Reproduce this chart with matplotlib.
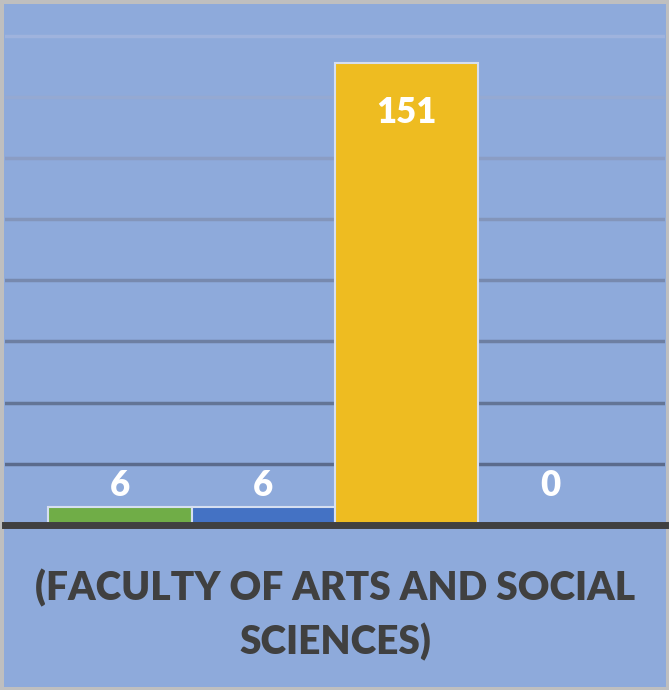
import matplotlib
matplotlib.use("Agg")
from matplotlib import pyplot as plt
import numpy as np

categories = ["A", "B", "C", "D"]
values = [6, 6, 151, 0]
bar_colors = ["#70AD47", "#4472C4", "#EEBC21", "#8EAADB"]
xlabel_text = "(FACULTY OF ARTS AND SOCIAL\nSCIENCES)"

bg = "#8EAADB"
grid_colors = ["#5B6B8C", "#637596", "#6D7FA2", "#7789AE", "#8395BA",
               "#8B9DC4", "#95A9D2", "#9FB3DD"]

plt.rcParams["font.family"] = ["Lato", "DejaVu Sans"]

fig = plt.figure(figsize=(6.69, 6.90), dpi=100)
fig.patch.set_facecolor(bg)
fig.patch.set_edgecolor("#BFBFBF")
fig.patch.set_linewidth(5)

ax = fig.add_axes([5 / 669, 1 - 525 / 690, 660 / 669, 520 / 690])
ax.set_facecolor(bg)

x = np.arange(len(categories))
bars = ax.bar(x, values, width=1.0, color=bar_colors, edgecolor="#D6DFF0",
              linewidth=1.5, zorder=3)

ax.set_xlim(-0.8, len(categories) - 0.2)
ax.set_ylim(0, 170)
ax.set_yticks(np.arange(20, 161, 20))
ax.yaxis.grid(True, linewidth=2.5, zorder=0)
ax.set_axisbelow(True)
for gl, c in zip(ax.get_ygridlines(), grid_colors):
    gl.set_color(c)

for s in ["top", "right", "left"]:
    ax.spines[s].set_visible(False)
ax.spines["bottom"].set_color("#404040")
ax.spines["bottom"].set_linewidth(5)
ax.spines["bottom"].set_zorder(4)
ax.tick_params(left=False, bottom=False, labelleft=False, labelbottom=False)

for xi, v in zip(x, values):
    if v > 50:
        ax.text(xi, v - 16, str(v), ha="center", va="center", color="white",
                fontsize=25, fontweight="heavy", zorder=5)
    else:
        ax.text(xi, 13, str(v), ha="center", va="center", color="white",
                fontsize=25, fontweight="heavy", zorder=5)

ax.set_xlabel(xlabel_text, fontsize=28, fontweight="heavy", color="#404040",
              labelpad=32, linespacing=1.5)

fig.savefig("out.png", dpi=100, facecolor=bg, edgecolor="#BFBFBF")
